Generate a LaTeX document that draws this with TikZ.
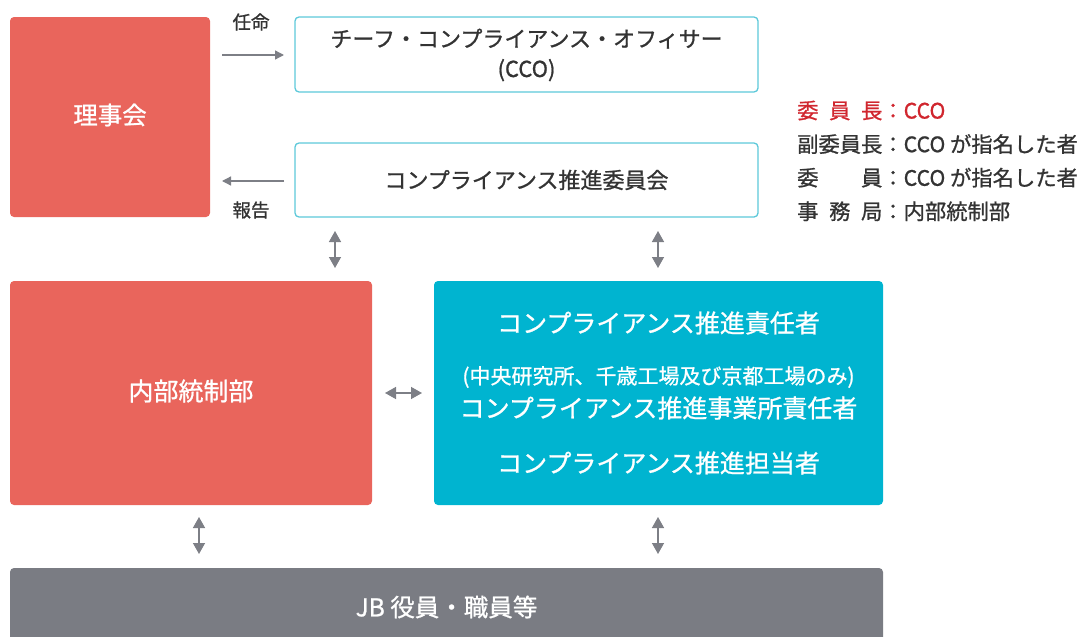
\documentclass[tikz,border=0pt]{standalone}
\usepackage{fontspec}
\setmainfont[FakeBold=0.9]{Noto Sans CJK JP}
\usetikzlibrary{arrows.meta}
\definecolor{redbox}{HTML}{E9655C}
\definecolor{cyanbox}{HTML}{00B4D0}
\definecolor{cyanline}{HTML}{5DC9DA}
\definecolor{graybox}{HTML}{7A7C83}
\definecolor{txt}{HTML}{333333}
\definecolor{redtxt}{HTML}{D0262E}
\definecolor{arrowgray}{HTML}{7D7F86}
\tikzset{
  x=1pt,y=-1pt,
  conn/.style={draw=arrowgray, line width=1.3pt, -{Triangle[length=9pt,width=9pt]}},
  dconn/.style={draw=arrowgray, line width=1.4pt, {Triangle[length=11pt,width=12pt]}-{Triangle[length=11pt,width=12pt]}},
  lbl/.style={text=txt, font=\fontsize{18.5}{22}\selectfont, inner sep=0pt},
}
\begin{document}
\begin{tikzpicture}
\useasboundingbox (0,0) rectangle (1088,637);
% boxes
\fill[redbox, rounded corners=4pt] (10,17) rectangle (210,217);
\node[text=white, font=\fontsize{24.5}{28}\selectfont] (rijikai) at (110,115) {理事会};

\draw[cyanline, line width=1.3pt, fill=white, rounded corners=4pt] (295,17) rectangle (758,92);
\node[text=txt, font=\fontsize{22}{30}\selectfont, align=center] (cco) at (526.5,55) {チーフ・コンプライアンス・オフィサー\\(CCO)};

\draw[cyanline, line width=1.3pt, fill=white, rounded corners=4pt] (295,143) rectangle (758,217);
\node[text=txt, font=\fontsize{22}{26}\selectfont] (iinkai) at (526.5,180) {コンプライアンス推進委員会};

\fill[redbox, rounded corners=4pt] (10,281) rectangle (372,505);
\node[text=white, font=\fontsize{25}{28}\selectfont] (naibu) at (191,391) {内部統制部};

\fill[cyanbox, rounded corners=4pt] (434,281) rectangle (883,505);
\node[text=white, font=\fontsize{25}{28}\selectfont] (sekinin) at (658.5,323) {コンプライアンス推進責任者};
\node[text=white, font=\fontsize{21}{24}\selectfont] (kakko) at (658.5,377) {(中央研究所、千歳工場及び京都工場のみ)};
\node[text=white, font=\fontsize{25}{28}\selectfont] (jigyo) at (658.5,408) {コンプライアンス推進事業所責任者};
\node[text=white, font=\fontsize{25}{28}\selectfont] (tanto) at (658.5,463) {コンプライアンス推進担当者};

\fill[graybox, rounded corners=4pt] (10,568) rectangle (883,650);
\node[text=white, font=\fontsize{24.5}{28}\selectfont] (jb) at (446.5,607) {JB 役員・職員等};

% side arrows
\coordinate (a1s) at (222,55); \coordinate (a1e) at (284,55);
\draw[conn] (a1s) -- (a1e);
\node[lbl] (ninmei) at (251,22) {任命};
\coordinate (a2s) at (284,181); \coordinate (a2e) at (222,181);
\draw[conn] (a2s) -- (a2e);
\node[lbl] (hokoku) at (251,210) {報告};

% double arrows
\coordinate (v1a) at (335,231); \coordinate (v1b) at (335,268);
\draw[dconn] (v1a) -- (v1b);
\coordinate (v2a) at (658,231); \coordinate (v2b) at (658,268);
\draw[dconn] (v2a) -- (v2b);
\coordinate (h1a) at (385,393); \coordinate (h1b) at (422,393);
\draw[dconn] (h1a) -- (h1b);
\coordinate (v3a) at (199,517); \coordinate (v3b) at (199,554);
\draw[dconn] (v3a) -- (v3b);
\coordinate (v4a) at (658,517); \coordinate (v4b) at (658,554);
\draw[dconn] (v4a) -- (v4b);

% member list
\node[anchor=north west, inner sep=0pt, text=txt, font=\fontsize{21.3}{33.6}\selectfont, align=left] (members) at (797,100.5)
{\textcolor{redtxt}{\makebox[4em][s]{委\hfill 員\hfill 長}：CCO}\\
副委員長：CCO が指名した者\\
\makebox[4em][s]{委\hfill 員}：CCO が指名した者\\
\makebox[4em][s]{事\hfill 務\hfill 局}：内部統制部};
\end{tikzpicture}
\end{document}
